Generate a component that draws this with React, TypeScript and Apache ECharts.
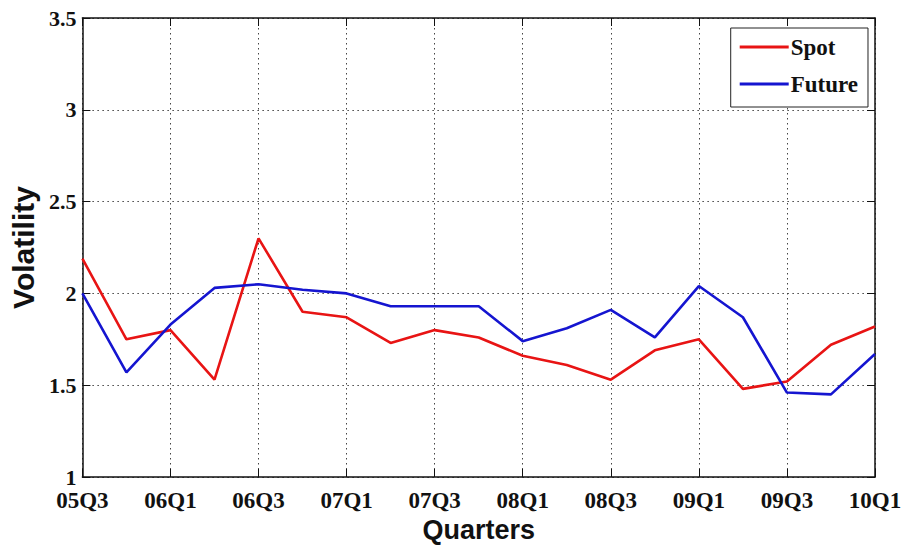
import React, { useEffect, useRef } from "react";
import * as echarts from "echarts";

// Quarters from 2005 Q3 to 2010 Q1
const quarters = [
  "05Q3", "05Q4", "06Q1", "06Q2", "06Q3", "06Q4", "07Q1", "07Q2", "07Q3", "07Q4",
  "08Q1", "08Q2", "08Q3", "08Q4", "09Q1", "09Q2", "09Q3", "09Q4", "10Q1",
];

const spot = [
  2.19, 1.75, 1.8, 1.53, 2.3, 1.9, 1.87, 1.73, 1.8, 1.76,
  1.66, 1.61, 1.53, 1.69, 1.75, 1.48, 1.52, 1.72, 1.82,
];

const future = [
  2.0, 1.57, 1.83, 2.03, 2.05, 2.02, 2.0, 1.93, 1.93, 1.93,
  1.74, 1.81, 1.91, 1.76, 2.04, 1.87, 1.46, 1.45, 1.67,
];

const yMin = 1;
const yMax = 3.5;
const yStep = 0.5;

const SERIF = "'Liberation Serif', 'Times New Roman', serif";
const SANS = "'Liberation Sans', Arial, sans-serif";

export default function App() {
  const ref = useRef<HTMLDivElement>(null);

  useEffect(() => {
    if (!ref.current) return;
    const chart = echarts.init(ref.current, undefined, { renderer: "svg" });

    const tickLabel = {
      fontFamily: SERIF,
      fontWeight: "bold" as const,
      fontSize: 23,
      color: "#111",
    };
    const dotted = {
      show: true,
      lineStyle: { color: "#444", width: 1, type: [1.5, 3.5] as number[] },
    };
    const frameLine = { show: true, lineStyle: { color: "#111", width: 1.5 } };
    const evenQuarter = (i: number) => i % 2 === 0;

    chart.setOption({
      animation: false,
      backgroundColor: "#fff",
      grid: { left: 80, right: 32, top: 18, bottom: 72 },
      legend: {
        orient: "vertical",
        right: 39,
        top: 28,
        padding: [7, 10, 11, 9],
        borderColor: "#222",
        borderWidth: 1,
        backgroundColor: "#fff",
        icon: "rect",
        itemWidth: 49,
        itemHeight: 3,
        itemGap: 13,
        textStyle: {
          fontFamily: SERIF,
          fontWeight: "bold",
          fontSize: 23,
          color: "#111",
          lineHeight: 24,
          padding: [0, 0, 0, -3],
        },
        data: ["Spot", "Future"],
      },
      xAxis: [
        {
          type: "category",
          data: quarters,
          boundaryGap: false,
          name: "Quarters",
          nameLocation: "middle",
          nameGap: 39,
          nameTextStyle: { fontFamily: SANS, fontWeight: "bold", fontSize: 27, color: "#111" },
          axisLine: frameLine,
          axisTick: { show: true, inside: true, length: 8, interval: evenQuarter, lineStyle: { color: "#111" } },
          axisLabel: { ...tickLabel, margin: 14, lineHeight: 18, interval: evenQuarter },
          splitLine: { ...dotted, interval: evenQuarter },
        },
        {
          type: "category",
          data: quarters,
          boundaryGap: false,
          position: "top",
          axisLine: frameLine,
          axisTick: { show: true, inside: true, length: 8, interval: evenQuarter, lineStyle: { color: "#111" } },
          axisLabel: { show: false },
          splitLine: { show: false },
        },
      ],
      yAxis: [
        {
          type: "value",
          min: yMin,
          max: yMax,
          interval: yStep,
          name: "Volatility",
          nameLocation: "middle",
          nameGap: 44,
          nameTextStyle: { fontFamily: SANS, fontWeight: "bold", fontSize: 30, color: "#111" },
          axisLine: frameLine,
          axisTick: { show: true, inside: true, length: 8, lineStyle: { color: "#111" } },
          axisLabel: { ...tickLabel, fontSize: 22, margin: 6, lineHeight: 14 },
          splitLine: dotted,
        },
        {
          type: "value",
          min: yMin,
          max: yMax,
          interval: yStep,
          position: "right",
          axisLine: frameLine,
          axisTick: { show: true, inside: true, length: 8, lineStyle: { color: "#111" } },
          axisLabel: { show: false },
          splitLine: { show: false },
        },
      ],
      series: [
        {
          name: "Spot",
          type: "line",
          data: spot,
          symbol: "none",
          color: "#e81414",
          lineStyle: { width: 2.6, color: "#e81414" },
          z: 3,
        },
        {
          name: "Future",
          type: "line",
          data: future,
          symbol: "none",
          color: "#1515d0",
          lineStyle: { width: 2.6, color: "#1515d0" },
          z: 4,
        },
      ],
    });

    return () => chart.dispose();
  }, []);

  return (
    <div
      ref={ref}
      style={{ position: "fixed", left: 0, top: 0, width: 907, height: 549 }}
    />
  );
}
